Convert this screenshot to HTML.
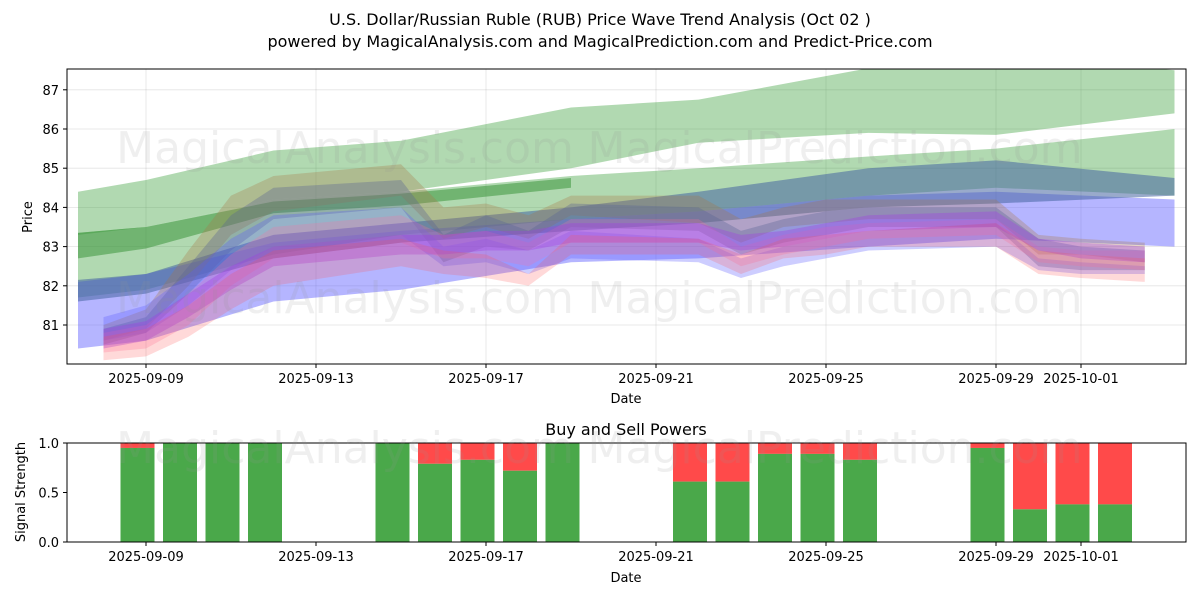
<!DOCTYPE html>
<html><head><meta charset="utf-8"><style>
body{margin:0;background:#fff;}
svg{display:block;font-family:"DejaVu Sans","Liberation Sans",sans-serif;}
</style></head><body>
<svg id="chart" width="1200" height="600" viewBox="0 0 1200 600" xmlns="http://www.w3.org/2000/svg">
<text x="600" y="25" text-anchor="middle" font-size="16">U.S. Dollar/Russian Ruble (RUB) Price Wave Trend Analysis (Oct 02 )</text>
<text x="600" y="47" text-anchor="middle" font-size="16">powered by MagicalAnalysis.com and MagicalPrediction.com and Predict-Price.com</text>
<g id="topchart"></g>
<g id="bottomchart"></g>
</svg>
<script>
const tickDates=["2025-09-09","2025-09-13","2025-09-17","2025-09-21","2025-09-25","2025-09-29","2025-10-01"];
const priceTicks=[81,82,83,84,85,86,87];
const powerTicks=["0.0","0.5","1.0"];
const wideDays=[-1.6,0,3,6,10,13,17,20,24.2];
const g1Up=[84.4,84.7,85.45,85.7,86.55,86.75,87.55,87.9,87.5];
const g1Lo=[83.3,83.5,84.2,84.4,85.0,85.65,85.9,85.85,86.4];
const g2Up=[83.35,83.5,84.2,84.4,84.8,85.0,85.3,85.5,86.0];
const g2Lo=[81.7,81.9,82.8,83.3,83.7,83.9,84.3,84.5,84.3];
const dgDays=[-1.6,0,3,6,10];
const dgUp=[83.35,83.5,84.15,84.35,84.75];
const dgLo=[82.7,82.95,83.85,84.05,84.5];
const b1Up=[82.1,82.3,83.1,83.4,83.7,83.9,84.3,84.4,84.2];
const b1Lo=[80.4,80.6,81.6,81.9,82.6,82.7,83.0,83.2,83.0];
const b2Up=[82.15,82.3,83.3,83.6,84.0,84.4,85.0,85.2,84.75];
const b2Lo=[81.6,81.8,82.7,83.1,83.4,83.6,84.0,84.1,84.3];
const nDays=[-1,0,1,2,3,6,7,8,9,10,13,14,15,16,17,20,21,22,23.5];
const n1Up=[81.0,81.4,82.9,84.3,84.8,85.1,84.0,84.1,83.8,84.3,84.3,83.7,84.0,84.2,84.2,84.2,83.3,83.2,83.1];
const n1Lo=[80.6,80.9,82.0,83.3,83.9,84.3,83.2,83.5,83.2,83.8,83.6,83.1,83.5,83.6,83.7,83.7,82.8,82.8,82.6];
const n2Up=[80.9,81.2,82.5,83.8,84.5,84.7,83.3,83.8,83.4,84.1,84.0,83.4,83.7,83.9,84.0,84.0,83.2,83.0,82.9];
const n2Lo=[80.5,80.8,81.8,82.9,83.7,84.0,82.6,83.0,82.9,83.5,83.4,82.8,83.1,83.3,83.5,83.5,82.5,82.4,82.4];
const n3Up=[80.9,81.1,81.8,82.5,83.0,83.3,83.3,83.4,83.4,83.6,83.6,83.3,83.4,83.6,83.8,83.9,83.2,83.1,83.0];
const n3Lo=[80.4,80.6,81.2,81.9,82.5,82.8,82.8,82.9,82.9,83.1,83.1,82.9,83.0,83.2,83.4,83.5,82.9,82.7,82.6];
const n4Up=[80.7,80.9,81.5,82.3,82.9,83.2,82.9,82.8,82.3,83.3,83.2,82.8,83.2,83.3,83.4,83.6,82.9,82.8,82.7];
const n4Lo=[80.1,80.2,80.7,81.4,82.0,82.5,82.3,82.2,82.0,82.8,82.8,82.3,82.7,82.8,83.0,83.0,82.3,82.2,82.1];
const n5Up=[81.2,81.5,82.3,83.2,83.8,84.0,83.0,83.2,82.9,83.4,83.2,82.7,83.0,83.2,83.4,83.6,82.7,82.6,82.5];
const n5Lo=[80.6,80.8,81.5,82.4,83.0,83.3,82.5,82.6,82.3,82.7,82.6,82.2,82.5,82.7,82.9,83.0,82.4,82.3,82.3];
const n6Up=[80.8,81.0,81.8,82.8,83.5,83.8,83.3,83.4,83.1,83.7,83.7,83.0,83.3,83.5,83.6,83.7,83.0,82.9,82.9];
const n6Lo=[80.3,80.4,81.0,82.0,82.7,83.1,82.7,82.7,82.5,83.1,83.1,82.5,82.8,83.0,83.2,83.3,82.6,82.5,82.4];
const barDays=[0,1,2,3,6,7,8,9,10,13,14,15,16,17,20,21,22,23];
const buyPower=[0.95,1,1,1,1,0.79,0.83,0.72,1,0.61,0.61,0.89,0.89,0.83,0.95,0.33,0.38,0.38];

const NS="http://www.w3.org/2000/svg";
const L=67,R=1186,T1=69,B1=364,T2=443,B2=542;
const base=new Date("2025-09-09T00:00:00Z");
function dayOf(s){return (new Date(s+"T00:00:00Z")-base)/86400000;}
function X(d){return 146+d*42.5;}
function Y(v){return 325-(v-81)*39.2;}
function Y2(v){return B2-v*(B2-T2);}
function el(tag,attrs,parent){const e=document.createElementNS(NS,tag);for(const k in attrs)e.setAttribute(k,attrs[k]);parent.appendChild(e);return e;}
const svgRoot=document.getElementById('chart');
const topG=document.getElementById('topchart'),botG=document.getElementById('bottomchart');
const cp=el('clipPath',{id:'c1'},topG);
el('rect',{x:L,y:T1,width:R-L,height:B1-T1},cp);
tickDates.forEach(t=>{const l=el('line',{x1:X(dayOf(t)),x2:X(dayOf(t)),y1:T1,y2:B1,stroke:'#b0b0b0','stroke-opacity':0.35,'stroke-width':0.8},topG);

});
priceTicks.forEach(v=>{const l=el('line',{x1:L,x2:R,y1:Y(v),y2:Y(v),stroke:'#b0b0b0','stroke-opacity':0.35,'stroke-width':0.8},topG);

});
const plot=el('g',{'clip-path':'url(#c1)'},topG);


function band(days,up,lo,fill,name){
 let p=days.map((d,i)=>X(d)+','+Y(up[i]));
 for(let i=days.length-1;i>=0;i--)p.push(X(days[i])+','+Y(lo[i]));
 const e=el('polygon',{points:p.join(' '),fill:fill},plot);
 
 
}
band(wideDays,g1Up,g1Lo,'rgba(60,160,60,0.4)','green-band-upper');
band(wideDays,g2Up,g2Lo,'rgba(60,160,60,0.4)','green-band-lower');
band(dgDays,dgUp,dgLo,'rgba(60,150,60,0.55)','dark-green-band');
band(wideDays,b1Up,b1Lo,'rgba(90,90,255,0.45)','blue-band-wide');
band(wideDays,b2Up,b2Lo,'rgba(70,100,160,0.55)','steel-blue-band');
band(nDays,n1Up,n1Lo,'rgba(170,120,70,0.3)','brown-wave-band');
band(nDays,n2Up,n2Lo,'rgba(90,100,150,0.35)','gray-wave-band');
band(nDays,n5Up,n5Lo,'rgba(90,90,255,0.3)','blue-wave-band');
band(nDays,n6Up,n6Lo,'rgba(255,110,160,0.25)','pink-wave-band');
band(nDays,n3Up,n3Lo,'rgba(160,60,230,0.35)','purple-wave-band');
band(nDays,n4Up,n4Lo,'rgba(255,80,80,0.22)','red-wave-band');
[[345,148],[835,148],[345,298],[835,298],[345,448],[835,448]].forEach((p,i)=>{
 const t=el('text',{x:p[0],y:p[1]+15,'text-anchor':'middle','font-size':44,fill:'rgba(150,150,150,0.15)'},svgRoot);
 t.textContent=i%2?'MagicalPrediction.com':'MagicalAnalysis.com';
 
 
});
const f1=el('rect',{x:L,y:T1,width:R-L,height:B1-T1,fill:'none',stroke:'#000','stroke-width':1},topG);


tickDates.forEach(t=>{const x=X(dayOf(t));el('line',{x1:x,x2:x,y1:B1,y2:B1+4,stroke:'#000'},topG);
 const tx=el('text',{x:x,y:B1+19,'text-anchor':'middle','font-size':13},topG);tx.textContent=t;
 
 });
priceTicks.forEach(v=>{el('line',{x1:L-4,x2:L,y1:Y(v),y2:Y(v),stroke:'#000'},topG);
 const tx=el('text',{x:L-8,y:Y(v)+5,'text-anchor':'end','font-size':13},topG);tx.textContent=v;
 
 });
let t=el('text',{x:626,y:403,'text-anchor':'middle','font-size':13},topG);t.textContent='Date';


t=el('text',{x:32,y:217,'text-anchor':'middle','font-size':13,transform:'rotate(-90 32 217)'},topG);t.textContent='Price';


t=el('text',{x:626,y:435,'text-anchor':'middle','font-size':16},botG);t.textContent='Buy and Sell Powers';


barDays.forEach((d,i)=>{
 const x=X(d-0.2)-17;
 const r=el('rect',{x:x,y:Y2(1),width:34,height:Y2(buyPower[i])-Y2(1),fill:'#ff4a4a'},botG);
 
 
 const g=el('rect',{x:x,y:Y2(buyPower[i]),width:34,height:Y2(0)-Y2(buyPower[i]),fill:'#4aa84a'},botG);
 
 
});
const f2=el('rect',{x:L,y:T2,width:R-L,height:B2-T2,fill:'none',stroke:'#000','stroke-width':1},botG);


tickDates.forEach(t=>{const x=X(dayOf(t));el('line',{x1:x,x2:x,y1:B2,y2:B2+4,stroke:'#000'},botG);
 const tx=el('text',{x:x,y:B2+19,'text-anchor':'middle','font-size':13},botG);tx.textContent=t;
 
 });
powerTicks.forEach(v=>{const y=Y2(parseFloat(v));el('line',{x1:L-4,x2:L,y1:y,y2:y,stroke:'#000'},botG);
 const tx=el('text',{x:L-8,y:y+5,'text-anchor':'end','font-size':13},botG);tx.textContent=v;
 
 });
t=el('text',{x:626,y:582,'text-anchor':'middle','font-size':13},botG);t.textContent='Date';


t=el('text',{x:25,y:492,'text-anchor':'middle','font-size':13,transform:'rotate(-90 25 492)'},botG);t.textContent='Signal Strength';


</script>
</body></html>
